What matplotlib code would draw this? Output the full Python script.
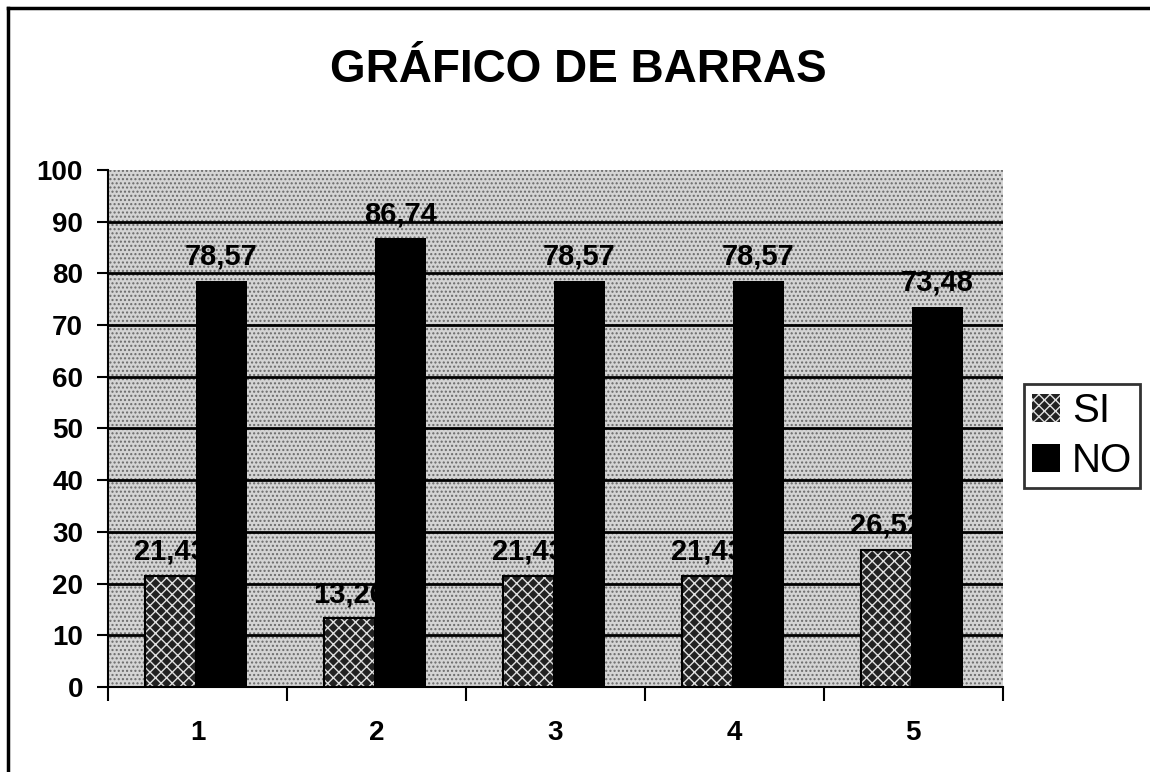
import matplotlib.pyplot as plt
import numpy as np
from matplotlib.lines import Line2D

plt.rcParams['font.family'] = ['Liberation Sans', 'DejaVu Sans']

grupos = ['1', '2', '3', '4', '5']
si = [21.43, 13.26, 21.43, 21.43, 26.52]
no = [78.57, 86.74, 78.57, 78.57, 73.48]

x = np.arange(len(grupos))
w = 0.285

fig = plt.figure(figsize=(11.5, 7.72), dpi=100)
ax = fig.add_axes([0.094, 0.110, 0.778, 0.670])

# fondo punteado
ax.set_facecolor('#d4d4d4')
ax.add_patch(plt.Rectangle((0, 0), 1, 1, transform=ax.transAxes, facecolor='none',
                           edgecolor='#6a6a6a', hatch='....', linewidth=0, zorder=0))

for yv in range(10, 100, 10):
    ax.axhline(yv, color='black', linewidth=2, zorder=1)

b_si = ax.bar(x - w / 2 - 0.01, si, w, facecolor='#222222', edgecolor='#e0e0e0', hatch='xxx',
              linewidth=0, zorder=2, label='SI')
ax.bar(x - w / 2 - 0.01, si, w, fill=False, edgecolor='black', linewidth=1.5, zorder=2)
b_no = ax.bar(x + w / 2 - 0.01, no, w, color='black', zorder=4, label='NO')

for xi, v in zip(x, si):
    ax.text(xi - w / 2 - 0.01, v + 2.0, f'{v:.2f}'.replace('.', ','), ha='center', va='bottom',
            fontsize=21, fontweight='bold', zorder=3)
for xi, v in zip(x, no):
    ax.text(xi + w / 2 - 0.01, v + 2.0, f'{v:.2f}'.replace('.', ','), ha='center', va='bottom',
            fontsize=21, fontweight='bold', zorder=5)

ax.set_xlim(-0.5, 4.5)
ax.set_ylim(0, 100)
ax.set_yticks(range(0, 101, 10))
ax.tick_params(axis='y', labelsize=20, length=8, width=1.5, direction='out', pad=10)
ax.set_xticks(np.arange(-0.5, 5, 1))
ax.set_xticklabels([])
ax.set_xticks(x, minor=True)
ax.set_xticklabels(grupos, minor=True)
ax.tick_params(axis='x', which='major', length=10, width=1.5, direction='out')
ax.tick_params(axis='x', which='minor', length=0, labelsize=20, pad=24)
for lbl in ax.get_yticklabels() + ax.get_xticklabels(minor=True):
    lbl.set_fontweight('bold')

ax.spines['top'].set_visible(False)
ax.spines['right'].set_visible(False)
ax.spines['left'].set_linewidth(1.5)
ax.spines['bottom'].set_linewidth(1.5)

leg = fig.legend(handles=[b_si, b_no], labels=['SI', 'NO'], loc='lower left',
                 bbox_to_anchor=(0.890, 0.368), fontsize=29, frameon=True, fancybox=False,
                 edgecolor='black', handlelength=0.7, handleheight=0.7, handletextpad=0.3,
                 borderpad=0.2, labelspacing=0.3, borderaxespad=0)
leg.get_frame().set_linewidth(2)

fig.text(0.503, 0.909, 'GRÁFICO DE BARRAS', ha='center', va='center',
         fontsize=33, fontweight='bold')

# borde exterior (solo izquierda y arriba)
fig.add_artist(Line2D([0.007, 0.007], [0, 0.99], color='black', linewidth=2.5))
fig.add_artist(Line2D([0.007, 1.0], [0.99, 0.99], color='black', linewidth=2.5))

fig.savefig('out.png', dpi=100)
